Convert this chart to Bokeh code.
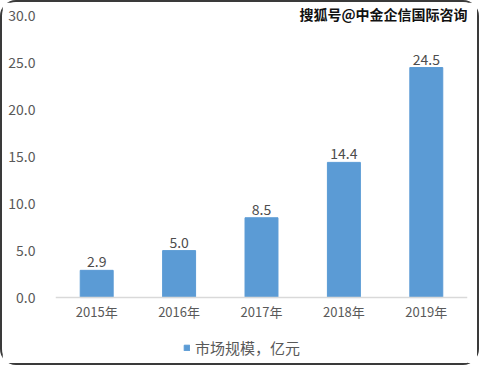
from bokeh.plotting import figure
from bokeh.models import ColumnDataSource, Legend, LegendItem, Label, NumeralTickFormatter, FixedTicker, Range1d
from bokeh.core.properties import value
from bokeh.embed import file_html
from bokeh.resources import INLINE

years = ["2015年", "2016年", "2017年", "2018年", "2019年"]
market = [2.9, 5.0, 8.5, 14.4, 24.5]
market_labels = ["2.9", "5.0", "8.5", "14.4", "24.5"]
y_ticks = [0, 5, 10, 15, 20, 25, 30]
series_name = "市场规模，亿元"
watermark = "搜狐号@中金企信国际咨询"

FONT = "Noto Sans CJK SC"
src = ColumnDataSource(dict(x=years, y=market, lab=market_labels))

p = figure(width=479, height=365, x_range=years, y_range=Range1d(-7.45, 31.43),
           output_backend="svg", toolbar_location=None,
           min_border_left=53, min_border_right=14, min_border_top=0, min_border_bottom=0)
p.styles = {"border": "2px solid #3a3a3a", "border-radius": "16px"}
p.outline_line_color = None
p.xgrid.grid_line_color = None
p.ygrid.grid_line_color = None

bars = p.vbar(x="x", top="y", width=0.4, source=src, color="#5B9BD5")
p.text(x="x", y="y", text="lab", source=src, text_align="center", text_baseline="bottom",
       y_offset=-3, text_font_size="14px", text_color="#4d4d4d", text_font=value(FONT))

p.yaxis.ticker = FixedTicker(ticks=y_ticks)
p.yaxis.formatter = NumeralTickFormatter(format="0.0")
p.yaxis.axis_line_color = None
p.yaxis.major_tick_line_color = None
p.yaxis.minor_tick_line_color = None
p.yaxis.major_label_standoff = 14
p.yaxis.major_label_text_font = FONT
p.yaxis.major_label_text_font_size = "14px"
p.yaxis.major_label_text_color = "#595959"

p.xaxis.fixed_location = 0
p.xaxis.axis_line_color = "#D9D9D9"
p.xaxis.axis_line_width = 1.5
p.xaxis.major_tick_line_color = None
p.xaxis.minor_tick_line_color = None
p.xaxis.major_tick_out = 0
p.xaxis.major_tick_in = 0
p.xaxis.major_label_standoff = 4
p.xaxis.major_label_text_font = FONT
p.xaxis.major_label_text_font_size = "13px"
p.xaxis.major_label_text_color = "#595959"

legend = Legend(items=[LegendItem(label=series_name, renderers=[bars])],
                location=(128, 9), orientation="horizontal",
                label_text_font=FONT, label_text_font_size="15px", label_text_color="#595959",
                glyph_width=7, glyph_height=7, label_standoff=5,
                border_line_color=None, background_fill_alpha=0, padding=2, margin=0)
p.add_layout(legend, "center")

wm = Label(x=5.0, y=30.2, text=watermark,
           text_align="right", text_baseline="middle", text_font=FONT, text_font_style="bold",
           text_font_size="14px", text_color="#111111")
p.add_layout(wm)

open("out.html", "w").write(file_html(p, INLINE))
